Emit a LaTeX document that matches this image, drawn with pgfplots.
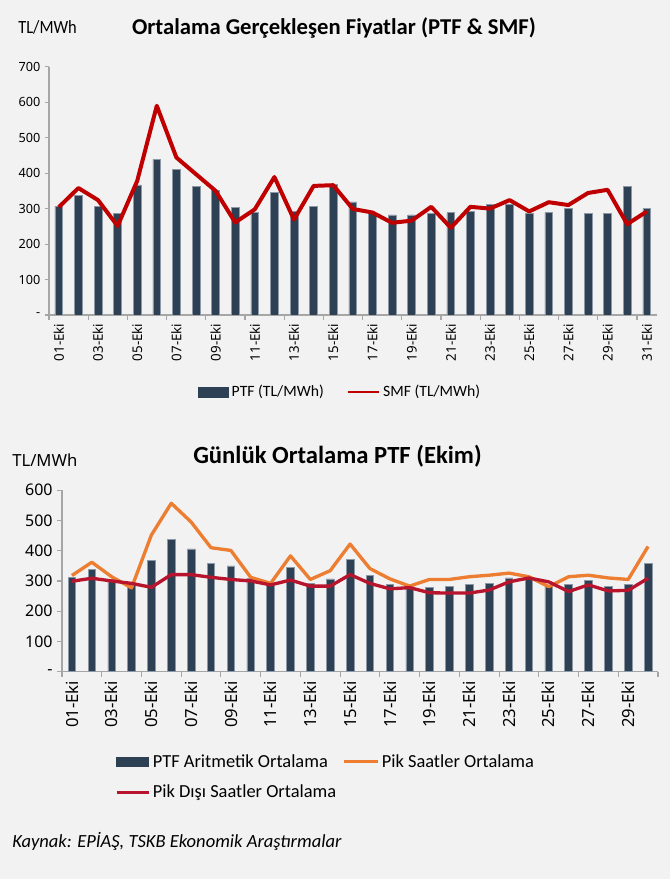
\documentclass[border=0pt]{standalone}
\usepackage{fontspec}
\setmainfont{Carlito}
\newfontfamily\notosans{Noto Sans}
\newfontfamily\condfont[FakeStretch=0.88]{Carlito}
\usepackage{pgfplots}
\pgfplotsset{compat=1.18}
\usepackage{pgfplotstable}

\definecolor{bgc}{RGB}{242,242,242}
\definecolor{barc}{RGB}{45,64,84}
\definecolor{baredge}{RGB}{140,152,166}
\definecolor{smfred}{RGB}{192,0,0}
\definecolor{pikor}{RGB}{237,125,49}
\definecolor{pikdr}{RGB}{185,20,45}
\definecolor{axgray}{RGB}{166,166,166}

\pgfplotstableread{
day ptf smf
1 307 304
2 336 358
3 307 324
4 286 251
5 367 378
6 439 590
7 410 444
8 363 397
9 352 350
10 304 261
11 289 298
12 345 389
13 293 269
14 307 364
15 369 366
16 319 299
17 286 289
18 282 260
19 282 266
20 286 305
21 289 246
22 293 305
23 311 300
24 311 324
25 286 292
26 289 318
27 300 310
28 286 344
29 286 353
30 363 256
31 300 292
}\toptable

\pgfplotstableread{
day ptf pik pikdisi
1 311 318 299
2 337 362 309
3 305 314 300
4 292 277 292
5 368 452 279
6 437 557 321
7 406 495 321
8 358 410 312
9 350 401 305
10 309 312 300
11 292 292 287
12 345 383 303
13 293 305 283
14 307 334 283
15 372 422 321
16 319 341 292
17 288 307 274
18 283 283 278
19 279 305 261
20 283 305 260
21 288 314 260
22 292 319 270
23 310 326 297
24 310 314 310
25 282 281 297
26 288 314 265
27 301 319 287
28 283 310 267
29 288 305 269
30 357 414 309
}\bottable

\begin{document}
\begin{tikzpicture}
\fill[bgc] (0,0) rectangle (502.5pt,659.25pt);
\useasboundingbox (0,0) rectangle (502.5pt,659.25pt);

% titles and labels
\node[anchor=west, inner sep=0pt, font=\condfont\fontsize{14}{16}\selectfont] at (13.5pt,639pt) {TL/MWh};
\node[inner sep=0pt, font=\bfseries\fontsize{17}{20}\selectfont] at (250.5pt,638.25pt) {Ortalama Gerçekleşen Fiyatlar (PTF \& SMF)};
\node[anchor=west, inner sep=0pt, font=\notosans\fontsize{12.5}{15}\selectfont] at (9pt,314.25pt) {TL/MWh};
\node[inner sep=0pt, font=\bfseries\fontsize{18.5}{21}\selectfont] at (253.1pt,317.25pt) {Günlük Ortalama PTF (Ekim)};
\node[anchor=west, inner sep=0pt, font=\itshape\fontsize{13.9}{16}\selectfont] at (9pt,28.5pt) {Kaynak: EPİAŞ, TSKB Ekonomik Araştırmalar};

% top chart
\begin{axis}[
  at={(36.75pt,423pt)}, anchor=south west,
  width=455.7pt, height=186.2pt, scale only axis,
  xmin=0.5, xmax=31.5, ymin=0, ymax=700,
  axis lines*=left,
  axis line style={axgray, line width=0.8pt},
  tick style={axgray, line width=0.8pt},
  tick align=outside,
  xtick={1,3,...,31},
  xticklabels={01-Eki,03-Eki,05-Eki,07-Eki,09-Eki,11-Eki,13-Eki,15-Eki,17-Eki,19-Eki,21-Eki,23-Eki,25-Eki,27-Eki,29-Eki,31-Eki},
  major x tick style={draw=none},
  minor xtick={0.5,2.5,...,30.5},
  minor tick length=3.5pt,
  ytick={0,100,...,700},
  yticklabels={-,100,200,300,400,500,600,700},
  major tick length=3pt,
  x tick label style={rotate=90, anchor=east, font=\notosans\fontsize{10}{12}\selectfont, yshift=0pt},
  y tick label style={font=\notosans\fontsize{9.5}{12}\selectfont},
  legend columns=2,
  legend style={at={(0.48,-0.31)}, anchor=center, draw=none, fill=none,
    font=\fontsize{11.8}{14}\selectfont, inner sep=0pt,
    /tikz/every even column/.append style={column sep=15pt}},
]
\addplot[ybar, bar width=5.8pt, fill=barc, draw=baredge, line width=0.5pt,
  legend image code/.code={\fill[barc] (0pt,-3.75pt) rectangle (22.5pt,3.75pt);}]
  table[x=day, y=ptf] {\toptable};
\addlegendentry{PTF (TL/MWh)}
\addplot[smfred, line width=3pt, line join=round,
  legend image code/.code={\draw[smfred, line width=2pt] (0pt,0pt) -- (23.5pt,0pt);}]
  table[x=day, y=smf] {\toptable};
\addlegendentry{SMF (TL/MWh)}
\end{axis}

% bottom chart
\begin{axis}[
  at={(46.5pt,155.5pt)}, anchor=south west,
  width=447pt, height=136.05pt, scale only axis,
  xmin=0.5, xmax=30.5, ymin=0, ymax=600,
  axis lines*=left,
  axis line style={axgray, line width=0.8pt},
  tick style={axgray, line width=0.8pt},
  tick align=outside,
  xtick={1,3,...,29},
  xticklabels={01-Eki,03-Eki,05-Eki,07-Eki,09-Eki,11-Eki,13-Eki,15-Eki,17-Eki,19-Eki,21-Eki,23-Eki,25-Eki,27-Eki,29-Eki},
  major x tick style={draw=none},
  minor xtick={0.5,2.5,...,30.5},
  minor tick length=4pt,
  ytick={0,100,...,600},
  yticklabels={-,100,200,300,400,500,600},
  major tick length=3.5pt,
  x tick label style={rotate=90, anchor=east, font=\notosans\fontsize{12.5}{14}\selectfont},
  y tick label style={font=\notosans\fontsize{12}{14}\selectfont},
  legend columns=2,
  legend cell align=left,
  legend style={at={(0.089,-0.44)}, anchor=north west, draw=none, fill=none,
    font=\fontsize{13.8}{16}\selectfont, inner sep=0pt, row sep=8pt,
    /tikz/every even column/.append style={column sep=3pt}},
]
\addplot[ybar, bar width=5.7pt, fill=barc, draw=baredge, line width=0.5pt,
  legend image code/.code={\fill[barc] (0pt,-3.6pt) rectangle (24pt,3.6pt);}]
  table[x=day, y=ptf] {\bottable};
\addlegendentry{PTF Aritmetik Ortalama}
\addplot[pikor, line width=2.5pt, line join=round,
  legend image code/.code={\draw[pikor, line width=2.2pt] (0pt,0pt) -- (25pt,0pt);}]
  table[x=day, y=pik] {\bottable};
\addlegendentry{Pik Saatler Ortalama}
\addplot[pikdr, line width=2.5pt, line join=round,
  legend image code/.code={\draw[pikdr, line width=2.2pt] (0pt,0pt) -- (24pt,0pt);}]
  table[x=day, y=pikdisi] {\bottable};
\addlegendentry{Pik Dışı Saatler Ortalama}
\end{axis}
\end{tikzpicture}
\end{document}
